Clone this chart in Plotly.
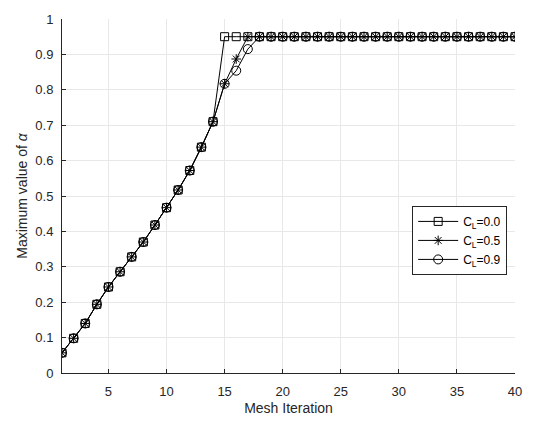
import plotly.graph_objects as go

iterations = list(range(1, 41))
common = [0.057, 0.098, 0.140, 0.194, 0.243, 0.286, 0.328, 0.370, 0.418, 0.467,
          0.517, 0.572, 0.638, 0.710]
cl00 = common + [0.95] * 26
cl05 = common + [0.817, 0.887] + [0.95] * 24
cl09 = common + [0.817, 0.854, 0.915] + [0.95] * 23
names = ["C<sub>L</sub>=0.0", "C<sub>L</sub>=0.5", "C<sub>L</sub>=0.9"]
symbols = ["square-open", "asterisk-open", "circle-open"]
sizes = [8, 8, 9]
series = [cl00, cl05, cl09]

axc = "#262626"
font = "Liberation Sans, Arial, sans-serif"

fig = go.Figure()
for ys, nm, sym, sz in zip(series, names, symbols, sizes):
    fig.add_trace(go.Scatter(
        x=iterations, y=ys, name=nm, mode="lines+markers",
        line=dict(color="black", width=1),
        marker=dict(symbol=sym, size=sz, color="black",
                    line=dict(color="black", width=1)),
    ))

fig.update_layout(
    width=534, height=425,
    margin=dict(l=62, r=14, t=13, b=52),
    paper_bgcolor="white", plot_bgcolor="white",
    font=dict(family=font, size=13, color=axc),
    showlegend=True,
    legend=dict(x=0.773, y=0.472, xanchor="left", yanchor="top",
                bgcolor="white", bordercolor=axc, borderwidth=1,
                font=dict(size=12, color="black"),
                tracegroupgap=0, itemwidth=40),
)
fig.update_xaxes(
    range=[1, 40], tickvals=[5, 10, 15, 20, 25, 30, 35, 40],
    showgrid=True, gridcolor="#e8e8e8", gridwidth=1,
    showline=True, linecolor=axc, linewidth=1, mirror=False,
    ticks="inside", ticklen=4, tickcolor=axc, zeroline=False,
    ticklabelstandoff=6,
    title=dict(text="Mesh Iteration", font=dict(size=14, color=axc), standoff=5),
    tickfont=dict(size=13, color=axc),
)
fig.update_yaxes(
    range=[0, 1], tickvals=[i / 10 for i in range(11)],
    ticktext=["0", "0.1", "0.2", "0.3", "0.4", "0.5", "0.6", "0.7", "0.8", "0.9", "1"],
    showgrid=True, gridcolor="#e8e8e8", gridwidth=1,
    showline=True, linecolor=axc, linewidth=1, mirror=False,
    ticks="inside", ticklen=4, tickcolor=axc, zeroline=False,
    ticklabelstandoff=5,
    title=dict(text="Maximum value of <i>α</i>", font=dict(size=14, color=axc), standoff=4),
    tickfont=dict(size=13, color=axc),
)

fig.write_html("out.html")
